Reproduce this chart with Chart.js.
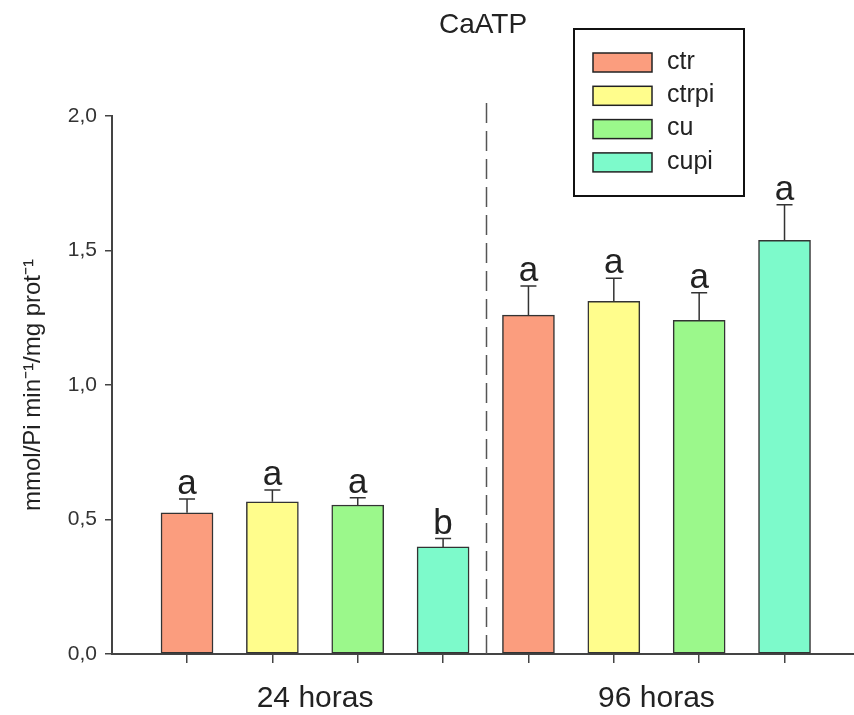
<!DOCTYPE html>
<html>
<head>
<meta charset="utf-8">
<title>CaATP</title>
<script src="https://cdn.jsdelivr.net/npm/chart.js@4"></script>
<style>
  html, body { margin: 0; padding: 0; background: #ffffff; }
  canvas { display: block; }
</style>
</head>
<body>
<canvas id="c" width="854" height="715"></canvas>
<script>
// Sampling times (groups on the x axis)
const groups = ['24 horas', '96 horas'];
// Treatments
const series = ['ctr', 'ctrpi', 'cu', 'cupi'];
// Mean activity per treatment, one value per group
const ctr   = [0.525, 1.260];
const ctrpi = [0.566, 1.311];
const cu    = [0.554, 1.240];
const cupi  = [0.398, 1.538];
// Standard errors (upper error bars)
const ctrErr   = [0.051, 0.108];
const ctrpiErr = [0.044, 0.086];
const cuErr    = [0.027, 0.103];
const cupiErr  = [0.031, 0.132];
// Significance letters
const ctrSig   = ['a', 'a'];
const ctrpiSig = ['a', 'a'];
const cuSig    = ['a', 'a'];
const cupiSig  = ['b', 'a'];
// Y tick labels (decimal comma)
const yTicks = ['0,0', '0,5', '1,0', '1,5', '2,0'];
const yTickValues = [0, 0.5, 1.0, 1.5, 2.0];

const colors = ['#FB9D7E', '#FFFD8C', '#9BF88B', '#7DFACB'];
const means = [ctr, ctrpi, cu, cupi];
const errs = [ctrErr, ctrpiErr, cuErr, cupiErr];
const sigs = [ctrSig, ctrpiSig, cuSig, cupiSig];

const perGroup = series.length;
const slot = (gi, si) => gi * perGroup + si;
const barSlots = [];
groups.forEach((g, gi) => series.forEach((s, si) => barSlots.push(slot(gi, si))));
const groupCenters = groups.map((g, gi) => slot(gi, 0) + (perGroup - 1) / 2);
const dividers = groups.slice(1).map((g, gi) => slot(gi + 1, 0) - 0.5);

const datasets = series.map((name, si) => ({
  label: name,
  data: groups.map((g, gi) => ({ x: slot(gi, si), y: means[si][gi] })),
  errors: errs[si],
  letters: sigs[si],
  backgroundColor: colors[si],
  borderColor: '#333333',
  borderWidth: 1.5,
  borderSkipped: false,
  barThickness: 52,
  grouped: false
}));

const FONT = "'Liberation Sans', Arial, sans-serif";
const INK = '#222222';
const AXIS = '#444444';

// Upper error bars, letters, group divider and legend box
const annotations = {
  id: 'annotations',
  afterDatasetsDraw(chart) {
    const { ctx, chartArea } = chart;
    const xs = chart.scales.x, ys = chart.scales.y;
    ctx.save();

    // dashed divider between sampling times
    ctx.strokeStyle = '#555555';
    ctx.lineWidth = 1.5;
    ctx.setLineDash([20, 8]);
    dividers.forEach(d => {
      const px = Math.round(xs.getPixelForValue(d)) + 0.5;
      ctx.beginPath();
      ctx.moveTo(px, chartArea.top - 13);
      ctx.lineTo(px, chartArea.bottom);
      ctx.stroke();
    });
    ctx.setLineDash([]);

    // error bars and letters
    chart.data.datasets.forEach(ds => {
      ds.data.forEach((pt, i) => {
        const cx = xs.getPixelForValue(pt.x);
        const yTop = ys.getPixelForValue(pt.y);
        const yCap = ys.getPixelForValue(pt.y + ds.errors[i]);
        ctx.strokeStyle = '#333333';
        ctx.lineWidth = 1.5;
        ctx.beginPath();
        ctx.moveTo(cx, yTop);
        ctx.lineTo(cx, yCap);
        ctx.moveTo(cx - 8, yCap);
        ctx.lineTo(cx + 8, yCap);
        ctx.stroke();
        ctx.fillStyle = INK;
        ctx.font = '35px ' + FONT;
        ctx.textAlign = 'center';
        ctx.textBaseline = 'alphabetic';
        ctx.fillText(ds.letters[i], cx, yCap - 5);
      });
    });

    // legend box
    const bx = 574, by = 29, bw = 170, bh = 167;
    ctx.fillStyle = '#ffffff';
    ctx.fillRect(bx, by, bw, bh);
    ctx.strokeStyle = '#111111';
    ctx.lineWidth = 2;
    ctx.strokeRect(bx, by, bw, bh);
    chart.data.datasets.forEach((ds, i) => {
      const ry = 53 + i * 33.3;
      ctx.fillStyle = ds.backgroundColor;
      ctx.fillRect(593, ry, 59, 19);
      ctx.strokeStyle = '#222222';
      ctx.lineWidth = 1.5;
      ctx.strokeRect(593, ry, 59, 19);
      ctx.fillStyle = INK;
      ctx.font = '25px ' + FONT;
      ctx.textAlign = 'left';
      ctx.textBaseline = 'middle';
      ctx.fillText(ds.label, 667, ry + 9);
    });
    ctx.restore();
  }
};

new Chart(document.getElementById('c'), {
  type: 'bar',
  data: { datasets },
  plugins: [annotations],
  options: {
    responsive: false,
    animation: false,
    devicePixelRatio: 1,
    layout: { padding: 0 },
    plugins: {
      legend: { display: false },
      tooltip: { enabled: false },
      title: {
        display: true,
        text: 'CaATP',
        fullSize: false,
        color: INK,
        font: { family: FONT, size: 28, weight: 'normal', lineHeight: 1.2 },
        padding: { top: 8, bottom: 74.4 }
      }
    },
    scales: {
      x: {
        type: 'linear',
        position: 'bottom',
        weight: 0,
        offset: false,
        min: -0.879,
        max: 7.814,
        afterBuildTicks: s => { s.ticks = barSlots.map(v => ({ value: v })); },
        afterFit: s => { s.height = 12; },
        ticks: { display: false, callback: () => '' },
        grid: { display: true, offset: false, drawOnChartArea: false, drawTicks: true, tickLength: 9, color: AXIS, lineWidth: 1.5 },
        border: { display: true, color: AXIS, width: 2 }
      },
      x2: {
        type: 'linear',
        position: 'bottom',
        weight: 1,
        offset: false,
        min: -0.879,
        max: 7.814,
        afterBuildTicks: s => { s.ticks = groupCenters.map(v => ({ value: v })); },
        afterFit: s => { s.height = 49; },
        ticks: {
          autoSkip: false,
          maxRotation: 0,
          padding: 15,
          color: INK,
          font: { family: FONT, size: 30 },
          callback: (v) => groups[groupCenters.indexOf(v)]
        },
        grid: { display: false, offset: false, drawTicks: false },
        border: { display: false }
      },
      y: {
        min: 0,
        max: 2,
        afterBuildTicks: s => { s.ticks = yTickValues.map(v => ({ value: v })); },
        afterFit: s => { s.width = 112; },
        ticks: {
          autoSkip: false,
          padding: 8,
          color: '#333333',
          font: { family: FONT, size: 21 },
          callback: (v) => yTicks[yTickValues.indexOf(v)]
        },
        grid: { display: true, drawOnChartArea: false, drawTicks: true, tickLength: 7, color: AXIS, lineWidth: 1.5 },
        border: { display: true, color: AXIS, width: 2 },
        title: {
          display: true,
          text: 'mmol/Pi min\u207B\u00B9/mg prot\u207B\u00B9',
          color: INK,
          font: { family: FONT, size: 24 },
          padding: { top: 19, bottom: 0 }
        }
      }
    }
  }
});
</script>
</body>
</html>
